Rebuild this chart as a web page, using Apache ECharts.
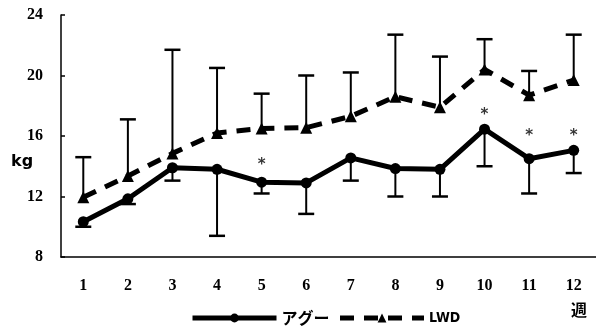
<!DOCTYPE html>
<html>
<head>
<meta charset="utf-8">
<script src="https://cdn.jsdelivr.net/npm/echarts@6/dist/echarts.min.js"></script>
<style>html,body{margin:0;padding:0;background:#fff;}#c{width:596px;height:333px;}</style>
</head>
<body>
<div id="c"></div>
<script>
var categories = ['1','2','3','4','5','6','7','8','9','10','11','12'];
var aguMean   = [10.33, 11.85, 13.9, 13.8, 12.95, 12.9, 14.55, 13.85, 13.8, 16.45, 14.5, 15.05];
var aguLow    = [10.0, 11.5, 13.05, 9.4, 12.2, 10.85, 13.05, 12.0, 12.0, 14.0, 12.2, 13.55];
var lwdMean   = [11.95, 13.35, 14.85, 16.2, 16.5, 16.55, 17.3, 18.6, 17.9, 20.4, 18.7, 19.7];
var lwdHigh   = [14.6, 17.1, 21.7, 20.5, 18.8, 20.0, 20.2, 22.7, 21.25, 22.4, 20.3, 22.7];
var starPos   = ['-', '-', '-', '-', 14.1, '-', '-', '-', '-', 17.4, 16.0, 16.0];
var seriesNames = ['アグー', 'LWD'];

var serifBold = {fontFamily: '"Liberation Serif", "DejaVu Serif", serif', fontWeight: 'bold', color: '#000'};

function errBar() {
  return function (params, api) {
    var i = api.value(0);
    var p1 = api.coord([i, api.value(1)]);
    var p2 = api.coord([i, api.value(2)]);
    var capY = p1[1];
    var hw = 8;
    return {
      type: 'group',
      children: [
        {type: 'line', shape: {x1: p1[0], y1: p1[1], x2: p2[0], y2: p2[1]}, style: {stroke: '#000', lineWidth: 2}},
        {type: 'line', shape: {x1: p1[0] - hw, y1: capY, x2: p1[0] + hw, y2: capY}, style: {stroke: '#000', lineWidth: 2.5}}
      ]
    };
  };
}

var aguErrData = categories.map(function (c, i) { return [i, aguLow[i], aguMean[i]]; });
var lwdErrData = categories.map(function (c, i) { return [i, lwdHigh[i], lwdMean[i]]; });

var chart = echarts.init(document.getElementById('c'), null, {renderer: 'canvas'});
chart.setOption({
  animation: false,
  backgroundColor: '#fff',
  grid: {left: 61, top: 15, width: 540, height: 242, containLabel: false},
  legend: {
    left: 185, top: 305,
    itemWidth: 84, itemHeight: 11, itemGap: 8,
    data: [
      {name: 'アグー', lineStyle: {width: 5}},
      {name: 'LWD', lineStyle: {width: 5}}
    ],
    formatter: function (n) { return n === 'アグー' ? '{a|' + n + '}' : '{b|' + n + '}'; },
    textStyle: {
      rich: {
        a: {fontFamily: '"Noto Sans CJK JP", sans-serif', fontWeight: 'bold', fontSize: 16, color: '#000', width: 62},
        b: {fontFamily: '"DejaVu Sans Condensed", "DejaVu Sans", sans-serif', fontWeight: 'bold', fontSize: 14, color: '#000'}
      }
    }
  },
  xAxis: {
    type: 'category',
    data: categories,
    boundaryGap: true,
    axisLine: {lineStyle: {color: '#000', width: 1.5}},
    axisTick: {inside: true, length: 4, lineStyle: {color: '#000', width: 1.5}},
    axisLabel: Object.assign({fontSize: 16, margin: 21}, serifBold),
    splitLine: {show: false}
  },
  yAxis: {
    type: 'value',
    min: 8, max: 24, interval: 4,
    axisLine: {show: true, lineStyle: {color: '#000', width: 1.5}},
    axisTick: {show: true, inside: true, length: 4, lineStyle: {color: '#000', width: 1.5}},
    axisLabel: Object.assign({fontSize: 16, margin: 18}, serifBold),
    splitLine: {show: false}
  },
  graphic: [
    {type: 'text', left: 11, top: 154, style: {text: 'kg', font: 'bold 16px "DejaVu Sans", sans-serif', fill: '#000'}},
    {type: 'text', left: 571, top: 302, style: {text: '週', font: 'bold 16px "Noto Sans CJK JP", sans-serif', fill: '#000'}}
  ],
  series: [
    {type: 'custom', name: 'aguErr', renderItem: errBar(), data: aguErrData, z: 1, encode: {x: 0, y: [1, 2]}},
    {type: 'custom', name: 'lwdErr', renderItem: errBar(), data: lwdErrData, z: 1, encode: {x: 0, y: [1, 2]}},
    {
      name: 'アグー', type: 'line', data: aguMean, z: 3,
      symbol: 'circle', symbolSize: 11,
      lineStyle: {color: '#000', width: 5},
      itemStyle: {color: '#000', borderWidth: 0}
    },
    {
      name: 'LWD', type: 'line', data: lwdMean, z: 3,
      symbol: 'triangle', symbolSize: 12,
      lineStyle: {color: '#000', width: 5, type: [14, 10]},
      itemStyle: {color: '#000', borderWidth: 0}
    },
    {
      name: 'star', type: 'scatter', data: starPos, symbolSize: 1,
      itemStyle: {color: 'rgba(0,0,0,0)'},
      label: {show: true, position: 'inside', formatter: '*', fontSize: 15, fontWeight: 'bold', color: '#000', fontFamily: '"DejaVu Sans", sans-serif'}
    }
  ]
});
</script>
</body>
</html>
